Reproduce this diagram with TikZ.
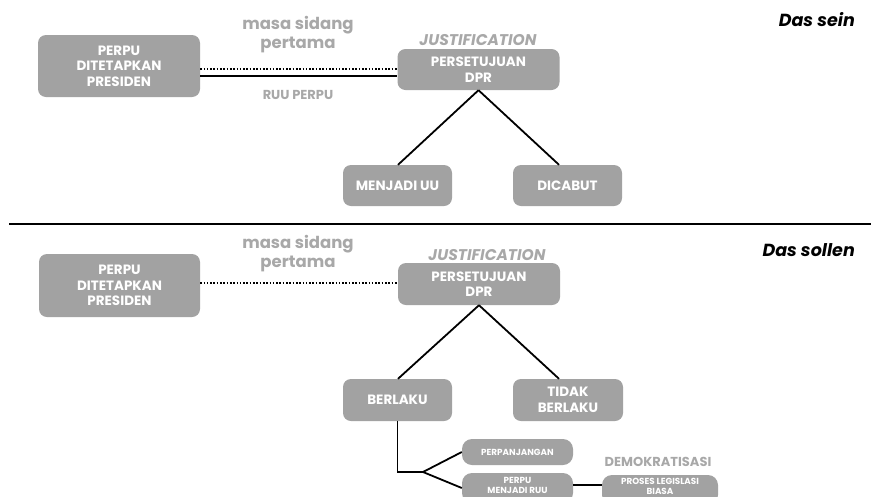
\documentclass[tikz,border=0pt]{standalone}
\usepackage{fontspec}
\setmainfont{Poppins}
\usetikzlibrary{calc}
\definecolor{boxgray}{RGB}{162,162,162}
\definecolor{labgray}{RGB}{168,168,168}
\tikzset{
  gbox/.style={fill=boxgray, rounded corners=8pt, text=white, font=\bfseries\fontsize{13.5}{15.5}\selectfont, align=center, inner sep=0pt},
  sbox/.style={fill=boxgray, rounded corners=10pt, inner sep=0pt},
  stext/.style={text=white, font=\bfseries\fontsize{8.8}{10}\selectfont, align=center, inner sep=0pt},
  glabel/.style={text=labgray, font=\bfseries\fontsize{16.5}{19}\selectfont, align=center, inner sep=0pt},
  slabel/.style={text=labgray, font=\bfseries\fontsize{13}{14}\selectfont, align=center, inner sep=0pt},
  jlabel/.style={text=labgray, font=\bfseries\itshape\fontsize{15.5}{17}\selectfont, inner sep=0pt},
  title/.style={text=black, font=\bfseries\itshape\fontsize{17.5}{20}\selectfont, inner sep=0pt},
  conn/.style={line width=1.8pt, black},
  dotline/.style={line width=2pt, black, dash pattern=on 1.6pt off 1.7pt},
}
\begin{document}
\begin{tikzpicture}[x=1pt, y=-1pt]
\useasboundingbox (0,0) rectangle (871,496);
\clip (0,0) rectangle (871,496);
\fill[white] (0,0) rectangle (871,496);

% ---------- Das sein ----------
\node[gbox, minimum width=162pt, minimum height=62pt] (p1) at (119,66) {PERPU\\DITETAPKAN\\PRESIDEN};
\node[glabel] (ms1) at (298,35) {masa sidang\\pertama};
\node[slabel] (ruu1) at (298,95) {RUU PERPU};
\node[jlabel] (j1) at (478,40) {JUSTIFICATION};
\node[gbox, minimum width=162pt, minimum height=41pt] (d1) at (478.5,69.5) {PERSETUJUAN\\DPR};
\node[gbox, minimum width=109pt, minimum height=41pt] (uu) at (397.5,185.5) {MENJADI UU};
\node[gbox, minimum width=109pt, minimum height=41pt] (cab) at (567.5,185.5) {DICABUT};
\node[title, anchor=east] (sein) at (855,20) {Das sein};

\draw[dotline] (p1.east |- 0,69) -- (d1.west |- 0,69);
\draw[conn] (p1.east |- 0,76) -- (d1.west |- 0,76);
\draw[conn] (d1.south) -- ($(uu.north)+(0.5,0)$);
\draw[conn] (d1.south) -- ($(cab.north)+(-8.5,0)$);

% separator
\coordinate (sepL) at (9,224);
\coordinate (sepR) at (871,224);
\draw[line width=2pt, black] (sepL) -- (sepR);

% ---------- Das sollen ----------
\node[gbox, minimum width=161pt, minimum height=63pt] (p2) at (119.5,285.5) {PERPU\\DITETAPKAN\\PRESIDEN};
\node[glabel] (ms2) at (298,254) {masa sidang\\pertama};
\node[jlabel] (j2) at (487,255) {JUSTIFICATION};
\node[gbox, minimum width=162pt, minimum height=42pt] (d2) at (479,284) {PERSETUJUAN\\DPR};
\node[title, anchor=east] (sollen) at (855,250) {Das sollen};
\node[gbox, minimum width=109pt, minimum height=42pt] (ber) at (397.5,400) {BERLAKU};
\node[gbox, minimum width=110pt, minimum height=42pt] (tid) at (568,400) {TIDAK\\BERLAKU};
\node[sbox, minimum width=111pt, minimum height=26pt] (pan) at (517.5,452) {};
\node[stext] (pant) at (pan.center) {PERPANJANGAN};
\node[sbox, minimum width=111pt, minimum height=30pt] (ruu2) at (517.5,488) {};
\node[stext] (ruu2t) at (517.5,485.5) {PERPU\\MENJADI RUU};
\node[slabel] (demo) at (658,462) {DEMOKRATISASI};
\node[sbox, minimum width=116pt, minimum height=30pt] (pro) at (660,490) {};
\node[stext] (prot) at (660,486) {PROSES LEGISLASI\\BIASA};

\draw[dotline] (p2.east |- 0,283) -- (d2.west |- 0,283);
\draw[conn] (d2.south) -- ($(ber.north)+(0.5,0)$);
\draw[conn] (d2.south) -- ($(tid.north)+(-9,0)$);
\coordinate (jn) at (423,472);
\draw[conn] (ber.south) -- (ber.south |- jn) -- (jn);
\draw[conn] (jn) -- (pan.west);
\draw[conn] (jn) -- (ruu2.west);
\draw[line width=2.5pt, black] (ruu2.east |- 0,485) -- (pro.west |- 0,485);
\end{tikzpicture}
\end{document}
